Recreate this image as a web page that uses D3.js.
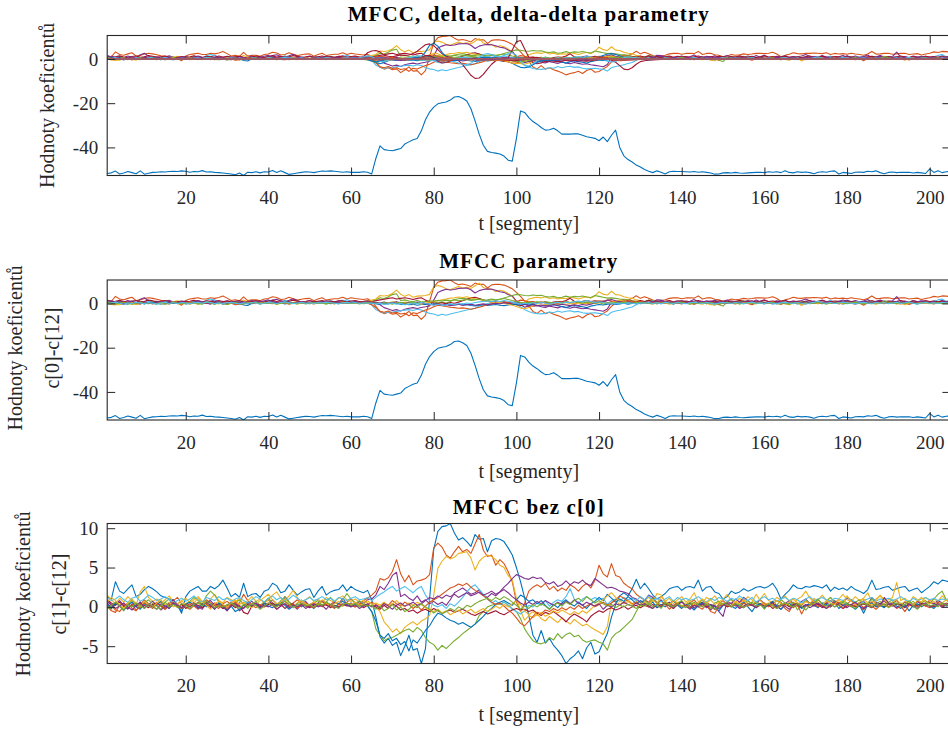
<!DOCTYPE html>
<html>
<head>
<meta charset="utf-8">
<script src="https://cdn.jsdelivr.net/npm/d3@7"></script>
<style>
  body { margin: 0; background: #fff; }
  text { font-family: "Liberation Serif", "Times New Roman", serif; }
</style>
</head>
<body>
<svg id="chart" width="948" height="731"></svg>
<script>
// Segment index (x axis)
const segments = d3.range(1, 206);

// c[0] – energy-like cepstral coefficient
const c0 = [
-51.8,-51.5,-50.7,-52.0,-51.6,-50.9,-51.4,-51.9,-50.6,-52.1,
-51.7,-51.3,-51.2,-51.0,-51.1,-50.9,-50.8,-50.9,-50.6,-50.8,
-51.2,-50.9,-51.0,-50.5,-51.1,-51.0,-51.3,-51.4,-51.6,-51.8,
-52.0,-52.4,-51.6,-52.7,-51.2,-51.4,-51.0,-51.5,-51.0,-51.1,
-50.4,-51.3,-50.6,-51.4,-52.2,-51.9,-51.6,-51.3,-51.0,-51.1,
-51.4,-51.0,-50.7,-50.8,-50.6,-50.8,-51.0,-51.2,-51.0,-51.3,
-51.2,-51.3,-51.0,-51.2,-52.0,-45.0,-39.3,-41.0,-41.3,-41.5,
-41.0,-40.5,-38.5,-37.5,-36.5,-36.0,-32.5,-27.5,-24.0,-21.8,
-20.3,-19.8,-19.5,-18.6,-17.2,-17.0,-17.8,-19.0,-22.5,-28.0,
-34.0,-39.0,-41.8,-42.3,-42.6,-43.0,-43.9,-45.8,-46.2,-36.0,
-23.5,-24.2,-26.5,-28.3,-29.5,-31.0,-32.2,-32.0,-31.3,-32.5,
-34.0,-34.0,-34.0,-33.8,-33.9,-34.5,-35.2,-35.5,-35.9,-37.0,
-35.3,-37.4,-34.5,-32.2,-40.0,-43.8,-45.5,-46.6,-48.0,-48.9,
-50.0,-50.8,-51.4,-50.6,-51.2,-52.0,-51.0,-50.8,-50.9,-50.9,
-51.0,-51.1,-50.9,-51.2,-51.0,-51.3,-51.6,-52.1,-52.0,-51.5,
-51.4,-51.6,-51.3,-51.6,-51.7,-51.5,-51.4,-51.3,-51.2,-51.4,
-51.0,-51.2,-51.0,-51.4,-50.5,-51.3,-51.5,-51.0,-51.3,-51.1,
-51.4,-51.9,-51.2,-51.0,-51.2,-50.8,-50.6,-52.0,-51.3,-51.5,
-51.8,-51.2,-51.1,-51.3,-50.8,-51.0,-50.6,-51.4,-51.9,-51.3,
-51.1,-51.4,-51.2,-51.3,-51.2,-51.6,-51.3,-51.5,-51.8,-49.7,
-51.3,-50.5,-51.4,-51.0,-50.9];

// c[1] .. c[12]
const c1 = [
1.3,1.0,3.2,2.0,1.7,2.3,2.8,1.3,1.6,2.2,
2.6,2.3,1.9,1.4,1.2,1.0,0.9,0.2,-0.8,1.3,
2.0,2.3,2.6,2.0,2.0,2.6,2.3,2.7,3.4,2.4,
1.3,1.7,1.2,3.0,1.3,1.6,1.7,1.2,2.0,2.2,
3.0,2.7,1.8,2.0,2.8,2.1,1.5,1.9,2.2,2.3,
1.2,2.0,2.6,1.5,1.9,2.1,2.2,2.8,2.0,2.6,
2.2,2.0,1.8,2.1,0.9,-1.3,-3.8,-4.6,-4.0,-4.9,
-4.5,-6.2,-5.0,-3.6,-5.5,-5.3,-7.2,-5.3,1.0,7.3,
9.6,10.2,10.3,10.6,9.4,8.5,8.8,8.3,7.7,9.2,
8.6,8.7,7.0,8.4,8.7,8.6,8.3,7.5,6.6,5.0,
3.2,1.1,-1.1,-3.6,-4.5,-3.0,-4.6,-4.0,-4.9,-5.5,
-6.2,-7.2,-6.6,-6.2,-5.6,-6.6,-5.2,-4.5,-6.0,-5.7,
-4.5,-3.4,-1.3,0.3,1.4,1.8,1.4,2.3,3.5,2.3,
3.0,2.3,1.5,1.0,1.3,1.7,2.3,2.5,2.6,2.1,
2.5,2.6,2.4,3.4,2.0,2.5,2.6,1.9,1.7,1.0,
1.3,2.0,1.7,1.9,2.3,2.0,2.2,2.5,2.6,2.4,
2.6,3.0,2.2,1.0,1.6,2.1,2.8,2.4,2.3,2.6,
2.5,2.7,2.6,2.4,2.8,2.0,2.5,2.2,2.4,2.1,
2.6,2.2,2.0,1.7,2.2,3.4,2.2,2.3,2.5,2.6,
2.1,2.3,2.5,2.6,2.0,2.2,2.4,1.8,2.2,2.6,
3.2,2.9,3.4,3.3,3.1];
const c2 = [
0.8,0.2,-0.4,-0.6,0.1,0.5,-0.2,-0.5,0.3,0.9,
0.4,0.1,0.6,0.2,-0.1,0.3,0.8,1.2,0.4,0.0,
-0.3,0.2,0.6,0.3,0.9,0.5,0.1,-0.2,0.4,0.7,
0.3,0.0,0.5,1.6,0.8,0.2,0.4,0.1,0.6,0.9,
0.3,0.0,0.4,0.7,0.2,0.5,0.9,0.4,0.1,0.3,
0.6,0.2,0.8,0.5,0.3,0.7,0.4,0.2,0.6,1.0,
0.5,0.3,0.8,1.1,1.5,2.0,3.6,3.4,3.7,4.5,
6.0,4.2,3.2,4.0,2.8,3.3,3.4,3.6,4.1,7.5,
8.1,7.6,6.6,6.2,7.0,7.7,7.0,7.3,6.8,8.0,
9.2,7.2,6.4,6.6,5.3,6.0,5.5,4.5,3.2,0.6,
-0.6,0.5,2.0,2.5,2.8,2.5,3.0,2.2,2.6,2.0,
2.4,2.1,2.8,2.5,2.0,2.6,3.0,2.4,3.4,5.3,
4.2,3.8,5.5,4.0,3.8,3.0,2.6,2.3,1.6,1.2,
0.9,0.6,1.2,0.4,0.8,0.3,0.5,-0.2,0.4,0.7,
0.2,0.5,0.9,0.3,0.1,0.6,0.2,-0.3,0.4,0.8,
0.3,0.5,0.1,0.6,0.9,0.4,0.2,0.7,0.3,0.5,
0.1,0.4,0.8,0.6,-0.2,-0.6,0.3,0.5,0.2,0.7,
0.4,0.9,0.3,0.1,0.5,0.8,0.4,0.6,0.2,0.3,
0.9,0.5,0.1,-0.4,0.3,0.6,0.2,0.4,0.7,0.3,
0.5,0.8,0.2,0.6,0.4,0.1,0.7,0.5,0.3,0.9,
0.4,0.6,0.2,0.5,0.3];
const c3 = [
1.5,0.9,0.4,1.1,0.6,1.3,0.8,0.2,1.9,2.6,
1.2,0.7,1.0,0.5,0.9,1.4,0.6,0.3,0.8,1.1,
0.5,0.9,1.3,0.7,0.4,1.0,1.6,0.8,0.5,1.2,
0.9,0.6,1.1,0.3,0.8,1.3,0.7,1.0,0.4,0.9,
1.5,1.9,1.1,0.8,1.4,2.1,1.2,0.6,0.9,1.3,
0.7,1.0,0.5,1.2,0.8,0.6,1.1,1.4,0.9,0.7,
1.0,0.6,0.8,0.5,0.4,0.0,-0.6,-1.9,-2.5,-3.2,
-2.8,-3.4,-2.6,-2.2,-1.9,-2.3,-1.8,-1.5,-1.1,1.5,
4.9,5.8,6.4,6.1,6.3,6.8,6.9,7.0,6.2,4.7,
5.8,6.3,6.6,6.4,6.0,5.3,5.0,4.0,3.4,1.1,
-0.5,-1.7,-1.1,-1.4,-0.9,-1.5,-1.8,-1.2,-1.6,-2.0,
-1.4,-1.8,-2.2,-1.6,-2.0,-2.4,-2.2,-2.6,-2.9,-3.2,
-3.5,-2.5,0.6,0.8,0.3,0.6,0.9,0.4,0.7,0.5,
0.8,1.2,0.6,1.7,1.5,0.7,1.1,0.4,0.9,1.3,
0.6,1.0,1.8,0.7,0.5,1.2,0.9,1.4,0.6,1.0,
1.6,0.8,0.5,1.1,0.7,1.3,0.9,0.4,1.0,1.7,
0.8,0.6,1.2,0.9,1.4,0.7,0.3,1.0,1.3,2.0,
1.1,0.6,0.9,1.5,0.8,1.2,0.5,1.0,1.6,0.9,
0.7,1.3,0.8,1.1,1.8,0.6,1.0,1.4,0.7,0.9,
1.2,3.1,0.8,1.1,0.5,1.3,0.9,0.6,1.2,0.8,
1.0,0.7,1.4,0.9,0.6];
const c4 = [
0.5,-0.1,0.3,0.8,0.2,-0.3,0.4,0.1,0.6,-0.2,
0.3,0.7,0.2,-0.4,0.1,0.5,0.9,0.3,-0.1,0.4,
0.2,0.6,0.0,-0.3,0.5,0.8,0.2,0.4,-0.2,0.1,
0.6,0.3,-0.5,-0.1,0.4,0.7,0.2,0.0,0.5,0.3,
0.9,0.4,0.1,1.3,0.6,0.2,-0.3,0.4,0.7,0.1,
0.3,0.5,0.8,0.2,0.0,0.6,0.4,1.1,0.3,0.5,
0.2,0.7,0.4,0.9,1.0,1.5,2.6,2.2,3.0,4.0,
4.4,1.3,1.6,1.1,0.8,1.4,0.6,0.9,0.4,0.7,
0.3,0.6,0.2,0.9,1.8,2.1,2.4,2.0,1.6,1.8,
2.2,1.5,1.2,1.7,1.4,1.9,2.5,3.0,3.6,4.1,
3.9,3.6,3.5,3.8,3.6,3.7,3.1,2.9,3.2,2.6,
2.8,3.3,2.8,3.2,3.0,3.4,2.9,2.7,3.6,3.2,
2.8,2.4,2.5,2.3,2.0,1.9,1.7,1.2,1.0,0.6,
0.8,1.5,1.2,0.5,0.9,0.3,0.6,0.1,0.4,0.7,
0.2,0.5,-0.2,0.3,0.6,0.1,-0.4,0.2,-0.6,-1.2,
0.7,0.4,1.0,0.6,1.2,0.8,0.3,0.5,0.9,0.4,
0.2,0.6,0.1,-0.3,0.4,0.8,0.5,0.2,0.7,1.0,
0.4,0.6,0.3,0.1,0.5,0.2,0.8,0.4,0.6,1.1,
0.9,0.3,0.5,0.7,0.2,1.2,0.6,0.4,0.8,0.3,
0.5,0.9,0.2,0.6,0.4,0.1,0.7,0.3,0.5,0.6,
0.4,0.8,0.5,0.3,0.6];
const c5 = [
0.2,-0.3,0.6,0.1,-0.5,0.3,0.8,0.4,-0.2,0.5,
0.9,0.4,0.1,-0.3,0.6,1.0,0.5,0.2,-0.1,0.4,
0.7,1.2,0.8,0.3,1.4,2.0,1.5,0.6,0.2,-0.4,
0.1,0.5,0.9,0.3,-0.2,0.4,0.7,0.2,0.6,1.1,
0.5,0.2,0.8,1.3,0.6,0.1,0.4,0.9,0.3,0.0,
0.5,0.8,0.2,0.6,1.2,0.7,0.3,0.9,1.7,1.0,
0.4,0.8,0.3,0.2,-0.6,-2.8,-3.6,-4.3,-4.0,-3.9,
-3.6,-3.3,-3.0,-2.8,-3.2,-2.6,-3.0,-3.9,-4.5,-4.8,
-5.5,-4.9,-5.3,-4.8,-4.3,-3.9,-3.4,-3.0,-2.6,-2.2,
-1.1,-0.6,0.0,0.2,0.4,0.3,0.6,0.2,-0.2,-0.6,
-1.5,-2.8,-3.6,-4.3,-4.6,-4.7,-4.5,-3.9,-4.2,-3.4,
-4.0,-3.5,-3.3,-3.8,-3.6,-4.2,-4.5,-4.3,-4.2,-4.5,
-4.7,-5.5,-4.0,-3.4,-3.1,-2.6,-2.1,-1.6,-0.6,0.3,
0.8,0.4,1.1,0.6,0.2,0.7,0.3,-0.1,0.5,0.8,
0.2,0.6,0.1,0.4,0.9,0.3,-0.2,0.5,0.7,0.2,
0.6,1.0,0.4,0.1,0.5,0.8,0.2,0.6,0.3,-0.3,
0.4,0.7,0.2,0.9,0.5,0.1,0.6,-0.4,0.3,0.8,
0.5,0.2,0.9,0.4,0.7,1.2,0.6,0.3,0.8,0.5,
0.1,0.6,0.9,0.3,0.5,1.0,0.4,0.7,0.2,0.6,
0.9,0.3,0.5,0.1,0.4,0.7,0.2,0.5,0.8,0.4,
1.0,1.6,2.0,0.9,0.5];
const c6 = [
1.2,0.8,1.0,1.4,0.9,0.6,1.1,1.3,0.7,1.0,
1.5,1.2,0.8,1.0,1.3,0.9,0.5,0.8,1.1,0.7,
1.0,1.4,0.9,0.6,1.2,1.0,0.8,1.3,0.9,1.1,
0.7,1.0,1.2,0.8,0.5,0.9,1.3,1.0,0.6,1.1,
1.4,0.9,1.2,0.8,1.0,1.5,1.1,0.7,0.9,1.2,
0.8,1.0,1.3,0.9,1.1,0.7,1.2,1.0,0.8,1.1,
1.3,0.9,1.0,1.2,0.8,1.2,1.6,1.9,2.3,2.6,
2.0,2.3,2.6,2.2,1.8,2.3,2.6,1.5,0.8,0.2,
0.0,0.3,-0.2,0.4,0.1,0.6,1.2,1.9,2.5,2.8,
2.2,1.6,1.0,0.5,0.8,0.3,0.6,0.2,-0.3,-0.6,
-0.9,-0.5,0.2,0.0,0.5,0.2,0.8,0.1,0.6,0.9,
0.7,1.3,2.3,1.0,0.4,1.0,1.3,0.9,1.2,0.9,
1.1,0.3,0.8,1.0,0.7,1.2,0.9,1.1,0.8,1.3,
0.9,1.4,0.8,1.1,0.6,1.0,1.3,0.7,1.2,0.9,
1.1,0.8,1.0,1.3,0.9,0.6,1.1,0.8,1.2,1.0,
0.7,1.1,0.9,1.4,1.0,0.8,1.2,0.6,1.0,1.3,
0.9,1.1,0.7,1.0,1.2,0.8,1.1,0.9,0.5,1.0,
1.3,0.8,1.0,1.2,0.9,0.7,1.1,1.0,0.8,1.2,
0.9,0.6,0.1,0.8,1.0,1.2,0.7,1.0,0.9,1.1,
0.8,1.0,1.3,0.9,0.6,1.1,0.8,1.0,1.2,0.9,
1.1,0.8,1.0,0.9,1.2];
const c7 = [
0.9,0.5,0.2,0.6,0.1,-0.2,0.3,0.0,0.4,0.2,
-0.1,0.3,0.5,0.1,-0.3,0.2,0.4,0.0,0.3,-0.2,
0.1,0.4,0.2,-0.1,0.3,0.0,0.5,0.2,-0.2,0.1,
0.3,-0.1,0.2,-0.7,-0.9,0.1,0.4,0.2,0.0,0.3,
0.5,0.1,0.3,-0.2,0.2,0.4,0.0,0.3,0.1,-0.1,
0.2,0.4,0.1,0.3,-0.1,0.2,0.0,0.3,0.1,0.2,
0.0,0.3,-0.1,0.2,0.1,0.0,-0.3,0.2,-0.2,0.4,
0.1,-0.4,-0.2,-0.6,-0.4,-0.8,-0.5,-0.3,-0.6,-0.2,
-0.5,-0.8,-0.6,-0.4,-0.7,-0.5,-0.3,-0.6,-0.9,-1.1,
-0.8,-0.6,-0.9,-0.7,-0.5,-0.8,-1.0,-0.7,-0.4,-0.2,
-0.4,-0.3,-0.6,-0.4,-0.8,-1.1,-0.7,-0.9,-0.6,-1.0,
-1.4,-1.9,-1.3,-0.9,-1.2,-1.5,-1.9,-1.2,-0.8,-0.5,
-0.7,-0.3,-0.1,-0.4,-0.2,0.1,-0.3,0.0,0.2,-0.1,
0.2,0.0,0.3,-0.1,0.2,0.4,0.1,-0.2,0.3,0.0,
0.2,-0.1,0.3,0.1,0.4,0.0,0.2,-0.3,0.1,0.3,
0.0,0.2,0.4,0.1,-0.1,0.3,0.2,0.0,0.4,0.1,
0.3,-0.2,0.1,0.2,0.4,0.0,0.3,0.1,-0.1,0.2,
0.4,0.1,0.3,-0.1,0.2,0.0,0.5,0.2,-0.2,0.1,
0.3,0.0,0.2,0.4,0.1,-0.1,0.3,0.2,0.0,0.3,
0.1,0.4,0.2,-0.1,0.3,0.0,0.2,0.4,0.1,0.2,
0.0,0.3,0.1,0.2,0.4];
const c8 = [
0.3,-0.2,0.5,0.1,-0.4,0.2,0.6,0.0,-0.3,0.4,
0.1,-0.1,0.3,0.7,0.2,-0.2,0.4,0.1,-0.5,0.3,
0.6,0.2,-0.1,0.4,0.0,0.3,-0.3,0.5,0.2,-0.4,
0.1,-0.6,-0.3,0.2,0.5,0.0,0.3,-0.2,0.4,0.1,
-0.1,0.3,0.6,0.2,-0.3,0.1,0.4,0.0,0.5,0.2,
-0.2,0.3,0.1,0.6,0.2,-0.1,0.4,0.7,0.3,0.0,
0.4,0.2,0.5,0.1,-0.6,-1.8,-3.6,-4.0,-3.4,-4.3,
-4.0,-4.8,-4.4,-5.6,-4.2,-4.6,-3.8,-3.0,-2.4,-1.5,
-0.8,-1.0,-1.4,-1.7,-1.9,-2.2,-2.0,-2.3,-2.6,-2.2,
-1.7,-1.2,-0.6,-0.2,0.3,0.6,0.8,0.5,0.2,0.9,
1.5,1.2,0.7,0.9,0.4,0.8,0.2,-0.3,0.3,-0.1,
0.5,0.9,0.4,0.1,0.6,0.2,-0.2,0.4,0.7,1.2,
0.8,1.6,1.1,0.6,1.0,0.7,1.3,0.9,0.4,0.8,
0.5,0.2,0.6,-0.1,0.3,0.0,0.4,0.8,0.2,-0.2,
0.3,0.1,-0.4,0.2,0.5,-0.1,0.3,0.0,-0.5,0.2,
0.4,0.1,-0.2,0.3,0.6,0.0,-0.6,0.2,0.4,-0.1,
0.3,0.7,0.1,-0.3,0.2,0.5,0.0,0.3,-0.2,0.1,
0.4,0.2,-0.1,0.5,0.3,0.0,0.6,-0.2,0.2,0.4,
0.1,-0.3,0.2,-0.8,0.3,0.5,0.0,0.2,-0.1,0.4,
0.6,0.1,-0.2,0.3,-0.5,0.2,0.4,0.0,0.3,0.1,
-0.2,0.3,0.5,0.1,0.2];
const c9 = [
0.1,-0.5,-0.7,0.2,0.4,-0.1,0.3,-0.4,0.0,0.5,
0.2,-0.2,0.4,0.1,-0.3,0.3,0.6,0.0,-0.2,0.2,
0.4,0.1,-0.3,0.2,0.5,-0.1,0.3,0.0,0.2,-0.2,
0.3,0.6,0.1,-0.2,0.4,0.2,-0.1,0.3,0.0,0.5,
0.2,-0.3,0.1,0.4,0.0,0.3,-0.2,0.2,0.5,0.1,
-0.1,0.3,0.0,0.4,0.2,-0.2,0.3,0.1,0.5,0.2,
0.0,0.4,0.1,0.3,0.6,0.3,0.0,0.5,0.2,0.8,
0.4,0.1,0.6,0.3,-0.2,0.2,-0.4,0.1,0.6,0.9,
1.2,1.6,2.0,2.4,2.6,2.9,2.7,3.0,2.5,2.1,
1.8,1.4,1.0,0.6,0.3,0.5,0.1,-0.4,-0.8,-1.4,
-2.1,-2.4,-1.8,-1.2,-0.7,-0.9,-0.4,-0.6,-0.2,-0.5,
-0.1,-0.4,0.0,-0.3,0.2,-0.2,0.1,0.4,0.0,0.3,
0.6,0.2,0.5,0.9,1.4,1.1,0.7,0.4,0.6,0.2,
0.3,0.0,-0.2,0.4,0.1,0.3,-0.3,0.2,0.5,0.0,
0.2,-0.1,0.4,0.0,-0.3,0.3,-0.6,-0.8,0.1,0.4,
0.2,0.0,0.3,-0.2,0.5,0.1,0.3,-0.1,0.2,0.4,
0.0,0.3,-0.2,0.1,0.4,0.2,-0.1,0.3,-0.9,0.1,
0.2,0.4,0.0,0.3,-0.2,0.1,0.5,0.2,-0.1,0.3,
0.0,0.2,0.4,-0.1,0.3,0.1,-0.3,0.2,0.4,0.0,
0.3,-0.2,0.1,-0.6,0.2,0.4,0.0,0.3,0.1,-0.1,
0.2,0.4,0.0,0.3,0.1];
const c10 = [
0.6,1.2,0.8,0.3,-0.2,0.5,1.0,0.4,0.1,0.7,
0.3,-0.1,0.5,0.9,0.2,0.6,0.0,0.4,0.8,0.3,
0.1,0.5,1.1,0.6,0.2,-0.3,0.4,0.7,0.3,0.0,
0.5,0.9,0.3,0.6,0.2,-0.1,0.4,0.8,1.2,1.6,
0.9,0.4,0.6,1.0,0.3,0.1,0.5,0.8,0.4,0.2,
0.6,0.3,0.9,0.5,0.1,0.4,0.7,0.2,0.5,0.3,
0.6,0.2,0.4,0.8,0.3,0.5,0.2,0.6,0.1,0.4,
0.8,0.3,0.0,0.5,0.2,0.6,0.3,-0.1,-0.4,-0.6,
-0.3,-0.8,-0.5,-1.0,-0.7,-0.4,-0.9,-0.6,-0.3,-0.8,
-0.5,-0.2,-0.6,-0.3,0.1,-0.2,0.3,0.0,0.4,0.8,
0.3,-0.5,-1.0,-0.6,-1.1,-0.7,-1.2,-0.9,-0.5,-0.8,
-0.4,-0.7,-1.0,-0.6,-0.9,-0.5,-0.8,-0.3,0.2,0.5,
0.9,1.4,1.8,1.2,0.8,0.4,0.7,0.3,0.5,0.1,
0.6,0.2,0.9,0.4,1.3,0.7,0.3,0.8,0.5,0.1,
0.4,0.8,0.2,0.6,1.0,0.5,0.9,0.3,0.6,0.2,
0.5,0.1,0.7,0.3,0.9,0.4,0.6,1.6,0.8,0.3,
0.5,0.2,0.8,0.4,0.1,0.6,1.0,0.5,0.3,0.7,
0.4,1.1,0.6,0.2,0.8,0.5,0.3,0.9,0.4,1.4,
0.7,0.3,0.6,1.0,0.5,0.2,0.8,1.5,0.9,0.4,
0.6,0.9,0.3,0.7,0.5,0.2,0.8,1.2,0.6,0.4,
0.7,0.3,0.5,0.9,0.4];
const c11 = [
0.7,0.3,-0.2,0.1,0.5,0.0,-0.4,0.2,0.6,-0.1,
0.3,0.0,-0.3,0.4,0.1,-0.2,0.5,0.2,-0.1,0.3,
0.0,0.4,-0.2,0.1,0.6,0.2,-0.3,0.3,0.0,-0.5,
0.2,0.4,0.0,-0.2,0.3,0.1,0.5,-0.1,0.2,0.0,
0.3,-0.3,0.1,0.4,-0.1,0.2,0.0,0.3,-0.2,0.1,
0.4,0.0,0.2,-0.3,0.3,0.1,-0.1,0.4,0.2,0.0,
0.3,-0.2,0.1,0.4,0.0,0.2,-0.1,0.4,0.1,-0.3,
0.2,0.5,0.1,0.3,0.6,0.2,0.4,0.8,1.2,1.0,
1.4,1.1,1.5,1.3,1.6,1.2,1.5,1.8,1.4,1.6,
1.9,1.5,1.7,2.0,1.6,1.9,2.2,1.8,1.3,0.9,
0.5,0.2,0.6,0.3,0.7,0.4,0.8,0.5,0.2,0.6,
0.3,0.7,0.4,0.9,0.5,0.2,0.6,0.3,0.1,0.4,
-0.3,0.2,0.0,0.4,0.2,0.6,0.3,0.1,0.5,0.2,
0.4,0.1,-0.2,0.3,0.0,0.5,0.2,-0.1,0.3,0.6,
0.1,-0.3,0.2,0.0,0.4,-0.1,0.3,0.1,-0.2,0.2,
0.5,0.0,0.3,-0.2,0.1,0.4,0.2,-0.1,0.3,0.0,
0.2,0.5,-0.1,0.3,0.1,-0.3,0.2,0.4,0.0,0.3,
-0.1,0.2,0.5,0.1,-0.2,0.3,0.0,0.4,0.2,-0.1,
0.3,0.6,0.1,-0.2,0.2,0.0,0.4,0.1,1.2,0.5,
0.2,-0.1,0.3,0.0,0.4,0.1,-0.2,0.3,0.5,0.0,
0.2,0.4,-0.1,0.3,0.1];
const c12 = [
-0.3,0.2,0.6,0.1,-0.4,0.3,0.0,0.5,0.2,-0.2,
0.4,0.1,-0.3,0.2,0.6,0.0,0.3,-0.1,0.4,0.2,
-0.2,0.3,0.5,0.1,0.7,0.4,-0.1,0.2,0.0,0.3,
0.5,0.1,-0.2,0.3,0.0,0.4,0.2,-0.3,0.1,0.5,
0.2,0.0,0.4,0.7,0.3,-0.1,0.2,0.5,0.1,0.3,
0.0,0.4,0.2,0.6,0.3,0.1,-0.2,0.3,0.5,0.2,
0.4,0.0,0.3,0.1,0.2,-0.3,0.1,-0.5,-0.2,0.3,
-0.4,0.0,-0.6,-0.3,0.2,-0.1,0.4,0.0,-0.3,-0.8,
-0.4,-0.9,-0.6,-0.2,-0.5,0.0,-0.3,0.2,0.0,0.4,
0.7,0.9,1.1,0.8,1.2,0.9,1.3,1.0,0.6,0.2,
-0.3,0.1,-0.2,0.3,0.0,0.4,0.1,-0.3,0.2,0.5,
0.1,0.6,0.3,0.8,1.1,0.7,1.3,0.9,0.5,0.8,
0.4,0.1,0.3,-0.1,0.2,0.0,0.3,0.1,-0.2,0.2,
0.1,0.4,0.0,0.3,-0.2,0.5,0.2,0.0,0.4,0.1,
-0.1,0.3,0.6,0.2,0.0,0.4,0.1,-0.3,0.2,0.5,
0.3,0.0,0.4,0.2,-0.1,0.3,0.6,0.1,0.2,0.0,
0.4,0.1,-0.2,0.3,0.5,0.2,0.0,0.4,0.1,-0.4,
0.2,0.5,1.0,0.3,0.1,0.4,0.0,0.2,0.6,0.3,
0.1,-0.2,0.3,0.5,0.2,0.0,0.4,0.1,0.3,-0.1,
0.2,0.5,0.0,0.3,0.8,0.1,-0.3,0.2,0.4,0.1,
0.3,0.0,0.5,0.2,0.4];

// delta coefficients
const dc0 = [
0.1,0.3,-0.1,-0.2,0.2,0.1,-0.3,0.2,0,-0.2,
0.1,0.2,0.1,0,0,0.1,0,0,0.1,-0.1,
-0.1,0,0.1,0,-0.1,-0.2,-0.2,-0.2,-0.1,-0.2,
-0.3,0,0,0.2,0.1,0.1,0.1,0,0.1,0.2,
0,-0.1,-0.2,-0.3,0,0.2,0.2,0.2,0.1,0,
0,0.1,0.1,0,-0.1,-0.1,-0.1,0,0,0,
0,0.2,1.0,2.8,3.6,3.8,3.2,1.6,1.2,1.0,
1.4,1.8,1.6,1.8,2.4,3.5,5.0,6.4,6.8,6.0,
4.2,2.4,1.2,0.8,0.2,-0.8,-2.6,-5.0,-7.4,-8.8,
-8.6,-7.0,-4.6,-2.4,-0.8,-0.6,-1.0,0.4,4.0,7.8,
8.3,4.5,0.8,-1.6,-2.2,-1.8,-1.2,-0.8,-1.0,-1.2,
-1.0,-0.6,-0.4,-0.6,-0.8,-0.9,-1.0,-0.8,-0.6,-0.2,
0.4,0.6,-0.6,-1.5,-3.0,-4.6,-4.9,-4.0,-2.4,-1.2,
-0.8,-0.6,-0.4,-0.3,-0.2,0,0.1,0.1,0,0,
0,0,0,-0.1,-0.1,-0.1,-0.2,-0.1,0,0.1,
0,0,0,0,0,0,0.1,0,0,0.1,
0,0,0.1,0.1,0,-0.1,0,0,0,0,
-0.1,0,0.1,0.1,0.1,0,-0.1,-0.1,0,0,
0,0.1,0.1,0.1,0,-0.1,0,0,0,0,
0,0,0,-0.1,0,0,0,0.2,0.1,0,
-0.1,0,0.1,0,0];
const dc1 = [
0,0.1,0,-0.1,0.1,0.1,-0.1,-0.1,0.1,0.1,
0,-0.1,-0.1,-0.1,-0.1,-0.2,-0.3,-0.1,0.2,0.3,
0.3,0.1,0,0,0.1,0.1,0.1,0.1,0,-0.2,
-0.2,-0.1,0.1,0,0,0,0,0.1,0.2,0.2,
0,-0.1,0,0.1,0,-0.1,0,0.1,0,-0.1,
0,0.1,0,0,0.1,0.1,0,0,0,-0.1,
-0.1,0,-0.1,-0.2,-0.4,-1.6,-2.2,-1.6,-0.8,-0.4,
-0.6,-0.2,0.3,-0.2,-0.5,-0.4,0.8,3.2,6.2,7.1,
5.8,3.0,0.8,-0.2,-0.6,-0.5,-0.2,0.1,0.2,0,
-0.2,-0.3,0.1,0.2,0,-0.3,-0.6,-1.2,-2.0,-3.0,
-3.8,-4.0,-3.6,-2.6,-1.6,-0.8,-0.6,-0.5,-0.6,-0.5,
-0.3,-0.1,0.2,0.3,0.2,0.3,0.4,0.2,0.5,1.0,
1.6,2.2,2.4,2.0,1.4,0.9,0.6,0.4,0.2,0,
-0.2,-0.3,-0.2,0,0.2,0.2,0.1,0,0,0,
0,0,0.1,0,-0.1,-0.1,-0.2,-0.2,-0.1,0,
0.1,0.1,0.1,0.1,0,0,0,0.1,0,0,
0,-0.1,-0.2,-0.1,0.1,0.2,0.1,0,0,0,
0,0,0,0,0,0,0,0,0,0,
0,0,0,0.1,0.1,0,0,0,0,0,
0,0,0,0,0,0,0,0,0.1,0.2,
0.2,0.1,0,0,0];
const dc2 = [
0,-0.1,-0.1,0,0.1,0,-0.1,0,0.1,0,
0,0,0,-0.1,0,0.1,0.1,0,-0.1,-0.1,
0,0.1,0,0.1,0,-0.1,-0.1,0,0.1,0,
0,0.1,0.2,0.1,-0.1,-0.1,0,0,0.1,0,
0,0,0,0,0.1,0.1,0,-0.1,0,0.1,
0,0,0,0,0,0,0,0.1,0.1,0.1,
0,0.1,0.2,0.3,0.6,1.0,1.2,1.0,0.8,0.6,
0.2,-0.4,-0.6,-0.3,-0.1,0.1,0.5,1.2,1.6,1.8,
1.2,0.4,-0.2,-0.1,0.3,0.2,0,0.1,0.4,0.6,
0.2,-0.4,-0.6,-0.5,-0.3,-0.5,-0.9,-1.4,-1.8,-1.9,
-1.2,-0.2,0.6,0.6,0.3,0.1,0,0,0,0,
0,0.1,0,0,0.1,0.1,0.2,0.4,0.8,0.9,
0.6,0.2,-0.2,-0.6,-0.8,-0.7,-0.6,-0.5,-0.3,-0.2,
-0.1,0,0,-0.1,0,0,0,0,0,0,
0,0.1,0,0,0,0,0,0,0.1,0,
0,0,0,0.1,0,0,0,0,0,0,
0,0,-0.1,-0.2,-0.1,0,0.1,0.1,0,0,
0,0,0,0,0,0,0,0,0,0,
-0.1,-0.1,0,0.1,0.1,0,0,0,0,0,
0,0,0,0,0,0,0,0,0,0.1,
0,0,0,0,0];
const dc3 = [
0,-0.1,0,0,0,0,0,0.2,0.2,0,
-0.2,-0.1,0,0,0,0,0,0,0,0,
0,0,0,0,0,0,0,0,0,0,
0,0,0,0,0,0,0,0,0.1,0.1,
0.1,0,0,0,0,0,-0.1,-0.1,0,0,
0,0,0,0,0,0,0,0,0,0,
0,0,0,-0.1,-0.2,-0.5,-0.8,-0.9,-0.7,-0.4,
-0.1,0.1,0.2,0.3,0.3,0.2,0.3,0.9,1.8,2.5,
2.4,1.5,0.6,0.2,0.2,0.2,0,-0.3,-0.4,-0.2,
0.2,0.3,0.1,-0.2,-0.4,-0.5,-0.7,-1.2,-1.8,-2.2,
-1.9,-1.0,-0.3,0,-0.1,-0.1,0,0,-0.1,0,
0,-0.1,0,0,-0.1,-0.1,-0.1,-0.2,-0.3,0,
0.7,1.2,1.3,0.8,0.2,0,0,0,0,0,
0,0,0.1,0,0,0,0,0,0,0,
0,0.1,0,0,0,0,0,0,0,0,
0,0,0,0,0,0,0,0,0,0.1,
0,0,0,0,0,0,0,0.1,0.2,0.1,
0,0,0,0,0,0,0,0,0,0,
0,0,0,0,0,0,0,0,0,0.1,
0.2,0.1,-0.2,-0.2,0,0,0,0,0,0,
0,0,0,0,0];
const dc4 = [
0,0,0.1,0,-0.1,0,0.1,0,0,0,
0,0,-0.1,-0.1,0,0.1,0.1,0,-0.1,0,
0,0,0,0,0.1,0,0,-0.1,0,0,
0,-0.1,0,0,0.1,0,0,0,0,0.1,
0.1,0,0,0.1,0,-0.1,0,0,0,0,
0,0,0,0,0,0,0.1,0,0,0,
0,0,0.1,0.2,0.4,0.5,0.7,0.6,0.3,-0.2,
-0.6,-0.7,-0.5,-0.2,-0.1,-0.1,-0.1,-0.1,-0.1,0.1,
0.3,0.4,0.4,0.3,0.1,-0.1,-0.1,-0.1,0,0,
-0.1,0,0.1,0.2,0.3,0.4,0.5,0.4,0.3,0.1,
0,-0.1,0,0,-0.1,-0.1,-0.1,0,0,0,
0,0,0,0,0,0,0,0,0,-0.1,
-0.1,-0.1,-0.2,-0.3,-0.4,-0.4,-0.3,-0.3,-0.2,-0.1,
-0.1,0,0,0,0,0,0,0,0,0,
0,0,0,0,-0.1,-0.2,-0.1,0,0.1,0.2,
0.1,0,0,0,0,0,0,0,0,0,
0,0,0,0,0,0,0,0,0,0,
0,0,0,0,0,0,0,0,0,0,
0,0,0,0,0,0.1,0,0,0,0,
0,0,0,0,0,0,0,0,0,0,
0,0,0,0,0];
const dc5 = [
0,0,0,-0.1,0,0.1,0,0,0,0.1,
0.1,0,-0.1,0,0.1,0,-0.1,0,0,0.1,
0.1,0.1,0,0.1,0.2,0,-0.2,-0.3,-0.2,0,
0.1,0.1,0,-0.1,0,0.1,0,0,0.1,0,
0,0,0.1,0,-0.1,0,0,0,0,0,
0.1,0,0,0.1,0,0,0.1,0.1,0,-0.1,
-0.1,-0.1,-0.2,-0.4,-1.0,-1.4,-1.2,-0.6,-0.1,0.1,
0.2,0.2,0.1,0,-0.1,-0.3,-0.5,-0.6,-0.6,-0.4,
-0.1,0.1,0.2,0.4,0.5,0.6,0.7,0.9,1.1,1.0,
0.8,0.5,0.2,0,-0.1,-0.2,-0.3,-0.5,-0.8,-1.1,
-1.3,-1.1,-0.7,-0.3,0,0.1,0.1,0,0,0,
0,0,0,0,-0.1,-0.1,0,0,-0.1,-0.1,
0,0.3,0.6,0.7,0.8,0.8,0.7,0.6,0.4,0.2,
0.1,0,0,0,0,0,0,0,0,0,
0,0,0,0,0,0,0,0,0,0,
0,0,0,0,0,0,0,0,0,0,
0,0,0,0,0,0,0,0,0,0,
0,0,0,0,0.1,0,0,0,0,0,
0,0,0,0,0,0,0,0,0,0,
0,0,0,0,0,0,0,0,0.1,0.2,
0.3,0.2,0,-0.2,-0.2];
const dc6 = [
0,0,0.1,0,0,-0.1,0,0.1,0,0,
0,0,-0.1,0,0,0,0,0.1,0,0,
0,0.1,0,0,0,0,0,0,0,0,
0,0,0,-0.1,0,0,0,0,0,0.1,
0,0,0,0,0.1,0,0,0,0,0,
0,0,0,0,0,0,0,0,0,0,
0,0,0,0,0.1,0.3,0.4,0.3,0.2,0.1,
0,0,0,0,-0.1,-0.2,-0.5,-0.8,-0.9,-0.6,
-0.2,0,0,0.1,0.2,0.4,0.7,0.7,0.4,0,
-0.4,-0.6,-0.5,-0.3,-0.1,-0.1,-0.1,-0.2,-0.3,-0.3,
0.1,0.3,0.3,0.2,0.1,0.1,0,0.1,0.1,0.2,
0.2,0.3,0.2,-0.2,-0.1,0,0,0,0,0,
0,0,0,0,0,0,0,0,0,0,
0,0,0,0,0,0,0,0,0,0,
0,0,0,0,0,0,0,0,0,0,
0,0,0,0,0,0,0,0,0,0,
0,0,0,0,0,0,0,0,0,0,
0,0,0,0,0,0,0,0,0,0,
0,0,0,-0.1,-0.1,0.1,0.1,0,0,0,
0,0,0,0,0,0,0,0,0,0,
0,0,0,0,0];
const dc7 = [
-0.1,-0.1,0,0,0,0,0,0,0,0,
0,0,0,0,0,0,0,0,0,0,
0,0,0,0,0,0,0,0,0,0,
0,0,-0.1,-0.2,-0.1,0.1,0.2,0.1,0,0,
0,0,0,0,0,0,0,0,0,0,
0,0,0,0,0,0,0,0,0,0,
0,0,0,0,0,0,0,0,0,0,
-0.1,-0.1,-0.2,-0.1,-0.1,0,0,0,0,0,
-0.1,0,0,0,0,0,-0.1,-0.1,-0.1,0,
0,0,0,0,0,0,0.1,0.1,0.1,0.1,
0,0,-0.1,-0.1,-0.1,-0.1,0,0,-0.1,-0.2,
-0.2,-0.1,0,0,-0.1,-0.1,0,0.2,0.3,0.3,
0.2,0.1,0.1,0,0,0,0,0,0,0,
0,0,0,0,0,0,0,0,0,0,
0,0,0,0,0,0,0,0,0,0,
0,0,0,0,0,0,0,0,0,0,
0,0,0,0,0,0,0,0,0,0,
0,0,0,0,0,0,0,0,0,0,
0,0,0,0,0,0,0,0,0,0,
0,0,0,0,0,0,0,0,0,0,
0,0,0,0,0];
const dc8 = [
0,0,0,0,0,0,0,0,0,0,
0,0.1,0.1,0,-0.1,-0.1,0,0,0,0.1,
0.1,0,0,0,0,0,0,0,0,0,
0,0,0,0.1,0.1,0,0,0,0,0,
0,0,0,0,0,0,0,0,0,0,
0,0,0,0,0,0,0.1,0,0,0,
0,0,0,-0.4,-0.9,-1.3,-1.1,-0.5,-0.1,-0.2,
-0.2,-0.1,0,0.2,0.5,0.7,0.8,0.9,1.0,0.8,
0.4,0,-0.3,-0.3,-0.3,-0.2,-0.1,-0.1,0.1,0.4,
0.6,0.7,0.6,0.5,0.4,0.2,0.1,0.1,0.2,0.2,
0,-0.2,-0.2,-0.2,-0.1,-0.1,-0.1,0,0,0,
0,0,0,0,0,0,0.1,0.2,0.2,0.1,
0,0,0,0,-0.1,-0.1,0,0,0,0,
0,0,0,0,0,0,0,0,0,0,
0,0,0,0,0,0,0,0,0,0,
0,0,0,0,0,0,0,0,0,0,
0,0,0,0,0,0,0,0,0,0,
0,0,0,0,0,0,0,0,0,0,
0,0,0,0,0,0,0,0,0,0,
0,0,0,0,0,0,0,0,0,0,
0,0,0,0,0];
const dc9 = [
0,0,0,0,0,0,0,0,0,0,
0,0,0,0,0,0,0,0,0,0,
0,0,0,0,0,0,0,0,0,0,
0,0,0,0,0,0,0,0,0,0,
0,0,0,0,0,0,0,0,0,0,
0,0,0,0,0,0,0,0,0,0,
0,0,0,0,0,0,0,0,0,0,
0,0,0,0,0,0,0.1,0.2,0.3,0.3,
0.4,0.4,0.4,0.3,0.2,0.1,0,-0.1,-0.2,-0.3,
-0.4,-0.4,-0.4,-0.4,-0.3,-0.3,-0.4,-0.5,-0.6,-0.6,
-0.4,-0.1,0.2,0.4,0.3,0.2,0.1,0.1,0.1,0.1,
0.1,0.1,0.1,0.1,0.1,0.1,0.1,0.1,0.1,0.2,
0.2,0.2,0.2,0.1,0,-0.1,-0.2,-0.2,-0.1,0,
0,0,0,0,0,0,0,0,0,0,
0,0,0,0,0,0,-0.1,-0.1,0,0,
0,0,0,0,0,0,0,0,0,0,
0,0,0,0,0,0,0,0,0,0,
0,0,0,0,0,0,0,0,0,0,
0,0,0,0,0,0,0,0,0,0,
0,0,0,0,0,0,0,0,0,0,
0,0,0,0,0];
const dc10 = [
0,0,0,0,0,0,0,0,0,0,
0,0,0,0,0,0,0,0,0,0,
0,0,0,0,0,0,0,0,0,0,
0,0,0,0,0,0,0,0.1,0.1,0.1,
0,0,0,0,0,0,0,0,0,0,
0,0,0,0,0,0,0,0,0,0,
0,0,0,0,0,0,0,0,0,0,
0,0,0,0,0,-0.1,-0.2,-0.3,-0.3,-0.2,
-0.1,-0.1,0,0,0,0,0,0,0,0.1,
0.1,0.1,0.1,0.2,0.2,0.2,0.1,0.1,0,-0.2,
-0.3,-0.3,-0.2,-0.1,0,0,0,0,0,0,
0,0,0,0,0.1,0.2,0.3,0.4,0.5,0.5,
0.4,0.2,0,-0.2,-0.3,-0.3,-0.2,-0.1,0,0,
0,0,0,0,0,0,0,0,0,0,
0,0,0,0,0,0,0,0,0,0,
0,0,0,0,0,0,0,0,0,0,
0,0,0,0,0,0,0,0,0,0,
0,0,0,0,0,0,0,0,0,0,
0,0,0,0,0,0,0,0,0,0,
0,0,0,0,0,0,0,0,0,0,
0,0,0,0,0];
const dc11 = [
0,0,0,0,0,0,0,0,0,0,
0,0,0,0,0,0,0,0,0,0,
0,0,0,0,0,0,0,0,0,0,
0,0,0,0,0,0,0,0,0,0,
0,0,0,0,0,0,0,0,0,0,
0,0,0,0,0,0,0,0,0,0,
0,0,0,0,0,0,0,0,0,0,
0,0.1,0.1,0.1,0.2,0.2,0.3,0.3,0.3,0.2,
0.2,0.1,0.1,0.1,0.1,0.1,0.1,0.1,0.1,0.1,
0.1,0.1,0.1,0.1,0,0,-0.1,-0.3,-0.5,-0.5,
-0.4,-0.2,0,0,0,0,0,0,0,0,
0,0,0,0,0,0,0,0,0,0,
-0.1,-0.1,0,0,0,0,0,0,0,0,
0,0,0,0,0,0,0,0,0,0,
0,0,0,0,0,0,0,0,0,0,
0,0,0,0,0,0,0,0,0,0,
0,0,0,0,0,0,0,0,0,0,
0,0,0,0,0,0,0,0,0,0,
0,0,0,0,0,0,0,0,0.1,0.1,
0,0,0,0,0,0,0,0,0,0,
0,0,0,0,0];
const dc12 = [
0,0,0,0,0,0,0,0,0,0,
0,0,0,0,0,0,0,0,0,0,
0,0,0,0,0,0,0,0,0,0,
0,0,0,0,0,0,0,0,0,0,
0,0,0,0,0,0,0,0,0,0,
0,0,0,0,0,0,0,0,0,0,
0,0,0,0,0,0,0,0,0,0,
0,0,0,0,0,0,0,0,-0.1,-0.1,
-0.1,0,0,0.1,0.1,0.1,0.1,0.2,0.2,0.3,
0.3,0.2,0.1,0.1,0.1,0,-0.1,-0.2,-0.3,-0.3,
-0.2,0,0,0,0,0,0,0,0.1,0.1,
0.2,0.2,0.2,0.1,0.1,0,-0.1,-0.2,-0.2,-0.2,
-0.1,-0.1,0,0,0,0,0,0,0,0,
0,0,0,0,0,0,0,0,0,0,
0,0,0,0,0,0,0,0,0,0,
0,0,0,0,0,0,0,0,0,0,
0,0,0,0,0,0,0,0,0,0,
0,0,0.1,0.1,0,0,0,0,0,0,
0,0,0,0,0,0,0,0,0,0,
0,0,0,0,0,0,0,0,0,0,
0,0,0,0,0];

// delta-delta coefficients
const ddc0 = [
0,0.1,0,-0.1,0,0,0,0,0,0,
0,0,0,0,0,0,0,0,0,0,
0,0,0,0,0,0,0,0,0,0,
0,0.1,0.1,0,-0.1,0,0,0,0,0,
0,0,0,0,0,0,0,0,0,0,
0,0,0,0,0,0,0,0,0,0,
0,0.4,1.0,1.4,1.0,0,-1.0,-1.2,-0.6,0,
0.2,0.2,0.3,0.6,1.0,1.3,1.4,1.0,0.2,-0.8,
-1.6,-1.8,-1.4,-1.0,-1.2,-1.8,-2.4,-2.6,-2.0,-0.6,
0.8,2.0,2.4,2.0,1.2,1.0,1.6,2.4,2.8,1.6,
-1.0,-3.0,-3.2,-2.2,-0.8,0.2,0.4,0.2,0,0,
0.1,0.1,0,0,0,0,0.1,0.2,0.3,0.2,
-0.4,-1.0,-1.4,-1.2,-0.4,0.6,1.0,0.8,0.5,0.3,
0.2,0.1,0,0,0,0,0,0,0,0,
0,0,0,0,0,0,0,0,0,0,
0,0,0,0,0,0,0,0,0,0,
0,0,0,0,0,0,0,0,0,0,
0,0,0,0,0,0,0,0,0,0,
0,0,0,0,0,0,0,0,0,0,
0,0,0,0,0,0,0,0.1,-0.1,0,
0,0,0,0,0];
const ddc1 = [
0,0,0,0,0,0,0,0,0,0,
0,0,0,0,0,0,0,0,0.1,0.1,
0,0,0,0,0,0,0,0,0,0,
0,0,0,0,0,0,0,0,0,0,
0,0,0,0,0,0,0,0,0,0,
0,0,0,0,0,0,0,0,0,0,
0,0,0,0,-0.2,-0.3,-0.4,-0.2,0.2,0.2,
0.1,0,0,0,0,0.2,0.6,1.4,1.6,0.6,
-1.0,-1.8,-1.6,-0.8,-0.2,0.1,0.1,0,0,0,
0,0,0,0,0,-0.2,-0.4,-0.6,-0.8,-0.8,
-0.4,0.2,0.6,0.8,0.6,0.3,0.1,0,0,0,
0,0,0,0,0,0,0,0.1,0.3,0.5,
0.5,0.2,-0.2,-0.4,-0.4,-0.3,-0.2,-0.1,0,0,
0,0,0,0,0,0,0,0,0,0,
0,0,0,0,0,0,0,0,0,0,
0,0,0,0,0,0,0,0,0,0,
0,0,0,0,0,0,0,0,0,0,
0,0,0,0,0,0,0,0,0,0,
0,0,0,0,0,0,0,0,0,0,
0,0,0,0,0,0,0,0,0,0,
0,0,0,0,0];
const ddc2 = [
0,0,0,0,0,0,0,0,0,0,
0,0,0,0,0,0,0,0,0,0,
0,0,0,0,0,0,0,0,0,0,
0,0,0,0,0,0,0,0,0,0,
0,0,0,0,0,0,0,0,0,0,
0,0,0,0,0,0,0,0,0,0,
0,0,0,0.1,0.2,0.2,0.1,-0.1,-0.2,-0.3,
-0.3,-0.2,0,0.1,0.2,0.3,0.4,0.3,0.1,-0.2,
-0.4,-0.5,-0.3,0,0.1,0,-0.1,0,0,-0.1,
-0.2,-0.3,-0.2,0,0,-0.1,-0.2,-0.2,0,0.3,
0.5,0.5,0.3,0,-0.1,-0.1,0,0,0,0,
0,0,0,0.1,0.2,0.2,0.2,0.1,0,-0.2,
-0.3,-0.3,-0.2,-0.1,0,0.1,0.1,0.1,0,0,
0,0,0,0,0,0,0,0,0,0,
0,0,0,0,0,0,0,0,0,0,
0,0,0,0,0,0,0,0,0,0,
0,0,0,0,0,0,0,0,0,0,
0,0,0,0,0,0,0,0,0,0,
0,0,0,0,0,0,0,0,0,0,
0,0,0,0,0,0,0,0,0,0,
0,0,0,0,0];
const ddc3 = [
0,0,0,0,0,0,0,0,0,0,
0,0,0,0,0,0,0,0,0,0,
0,0,0,0,0,0,0,0,0,0,
0,0,0,0,0,0,0,0,0,0,
0,0,0,0,0,0,0,0,0,0,
0,0,0,0,0,0,0,0,0,0,
0,0,0,0,0,0,0,0,0,0,
0.2,0.2,0.1,0,0,0.2,0.4,0.5,0.4,0.1,
-0.3,-0.6,-0.6,-0.4,-0.2,-0.1,-0.1,0,0,0.1,
0.1,0,-0.1,-0.2,-0.2,-0.2,-0.3,-0.3,-0.2,0,
0.3,0.5,0.4,0.2,0,0,0,0,0,0,
0,0,0,0,0,0,0,0,0.1,0.3,
0.4,0.3,0,-0.3,-0.4,-0.3,-0.1,0,0,0,
0,0,0,0,0,0,0,0,0,0,
0,0,0,0,0,0,0,0,0,0,
0,0,0,0,0,0,0,0,0,0,
0,0,0,0,0,0,0,0,0,0,
0,0,0,0,0,0,0,0,0,0,
0,0,0,0,0,0,0,0,0,0,
0,0,0,0,0,0,0,0,0,0,
0,0,0,0,0];
const ddc4 = [
0,0,0,0,0,0,0,0,0,0,
0,0,0,0,0,0,0,0,0,0,
0,0,0,0,0,0,0,0,0,0,
0,0,0,0,0,0,0,0,0,0,
0,0,0,0,0,0,0,0,0,0,
0,0,0,0,0,0,0,0,0,0,
0,0,0,0,0.1,0.1,0.1,0,-0.1,-0.2,
-0.2,-0.1,0,0.1,0.1,0,0,0,0,0.1,
0.1,0,0,-0.1,-0.1,0,0,0,0,0,
0,0,0.1,0.1,0.1,0.1,0,0,-0.1,-0.1,
0,0,0,0,0,0,0,0,0,0,
0,0,0,0,0,0,0,0,0,0,
0,0,0,0,0,0,0,0,0,0,
0,0,0,0,0,0,0,0,0,0,
0,0,0,0,0,0,0,0,0,0,
0,0,0,0,0,0,0,0,0,0,
0,0,0,0,0,0,0,0,0,0,
0,0,0,0,0,0,0,0,0,0,
0,0,0,0,0,0,0,0,0,0,
0,0,0,0,0,0,0,0,0,0,
0,0,0,0,0];
const ddc5 = [
0,0,0,0,0,0,0,0,0,0,
0,0,0,0,0,0,0,0,0,0,
0,0,0,0,0,0,0,0,0,0,
0,0,0,0,0,0,0,0,0,0,
0,0,0,0,0,0,0,0,0,0,
0,0,0,0,0,0,0,0,0,0,
0,0,0,-0.1,-0.3,-0.3,0,0.2,0.3,0.2,
0,-0.1,-0.1,-0.1,-0.1,-0.1,0,0.1,0.1,0.2,
0.2,0.2,0.1,0.1,0.1,0.1,0.1,0,-0.1,-0.2,
-0.3,-0.3,-0.2,-0.1,-0.1,-0.1,-0.2,-0.2,-0.2,-0.1,
0.1,0.3,0.3,0.2,0.1,0,0,0,0,0,
0,0,0,0,0,0,0,0,0.1,0.1,
0.2,0.2,0.1,0,0,-0.1,-0.1,-0.1,-0.1,-0.1,
0,0,0,0,0,0,0,0,0,0,
0,0,0,0,0,0,0,0,0,0,
0,0,0,0,0,0,0,0,0,0,
0,0,0,0,0,0,0,0,0,0,
0,0,0,0,0,0,0,0,0,0,
0,0,0,0,0,0,0,0,0,0,
0,0,0,0,0,0,0,0,0,0,
0,0,0,0,0];
const ddc6 = [
0,0,0,0,0,0,0,0,0,0,
0,0,0,0,0,0,0,0,0,0,
0,0,0,0,0,0,0,0,0,0,
0,0,0,0,0,0,0,0,0,0,
0,0,0,0,0,0,0,0,0,0,
0,0,0,0,0,0,0,0,0,0,
0,0,0,0,0,0,0,0,0,0,
0,0,0,0,-0.1,-0.2,-0.2,-0.1,0,0.1,
0.2,0.2,0.2,0.1,0.1,0,0,-0.1,-0.2,-0.2,
-0.2,-0.1,0,0.1,0.1,0.1,0,0,0,0.1,
0.1,0.1,0,0,0,0,0,0,0,0,
0,0,0,0,0,0,0,0,0,0,
0,0,0,0,0,0,0,0,0,0,
0,0,0,0,0,0,0,0,0,0,
0,0,0,0,0,0,0,0,0,0,
0,0,0,0,0,0,0,0,0,0,
0,0,0,0,0,0,0,0,0,0,
0,0,0,0,0,0,0,0,0,0,
0,0,0,0,0,0,0,0,0,0,
0,0,0,0,0,0,0,0,0,0,
0,0,0,0,0];
const ddc7 = [
0,0,0,0,0,0,0,0,0,0,
0,0,0,0,0,0,0,0,0,0,
0,0,0,0,0,0,0,0,0,0,
0,0,0,0,0,0,0,0,0,0,
0,0,0,0,0,0,0,0,0,0,
0,0,0,0,0,0,0,0,0,0,
0,0,0,0,0,0,0,0,0,0,
0,0,0,0,0,0,0,0,0,0,
0,0,0,0,0,0,0,0,0,0,
0,0,0,0,0,0,0,0,0,0,
0,0,0,0,0,0,0,0,0,0,
0,0,0,0.1,0.1,0.1,0,0,0,0,
0,0,0,0,0,0,0,0,0,0,
0,0,0,0,0,0,0,0,0,0,
0,0,0,0,0,0,0,0,0,0,
0,0,0,0,0,0,0,0,0,0,
0,0,0,0,0,0,0,0,0,0,
0,0,0,0,0,0,0,0,0,0,
0,0,0,0,0,0,0,0,0,0,
0,0,0,0,0,0,0,0,0,0,
0,0,0,0,0];
const ddc8 = [
0,0,0,0,0,0,0,0,0,0,
0,0,0,0,0,0,0,0,0,0,
0,0,0,0,0,0,0,0,0,0,
0,0,0,0,0,0,0,0,0,0,
0,0,0,0,0,0,0,0,0,0,
0,0,0,0,0,0,0,0,0,0,
0,0,0,0,-0.1,-0.2,-0.2,0,0.1,0.1,
0.1,0.1,0.1,0.1,0.1,0.1,0,0,-0.1,-0.2,
-0.2,-0.2,-0.1,0,0,0,0,0.1,0.1,0.1,
0.1,0,0,-0.1,-0.1,-0.1,0,0,0,-0.1,
-0.1,-0.1,0,0,0,0,0,0,0,0,
0,0,0,0,0,0,0,0,0,0,
0,0,0,0,0,0,0,0,0,0,
0,0,0,0,0,0,0,0,0,0,
0,0,0,0,0,0,0,0,0,0,
0,0,0,0,0,0,0,0,0,0,
0,0,0,0,0,0,0,0,0,0,
0,0,0,0,0,0,0,0,0,0,
0,0,0,0,0,0,0,0,0,0,
0,0,0,0,0,0,0,0,0,0,
0,0,0,0,0];
const ddc9 = [
0,0,0,0,0,0,0,0,0,0,
0,0,0,0,0,0,0,0,0,0,
0,0,0,0,0,0,0,0,0,0,
0,0,0,0,0,0,0,0,0,0,
0,0,0,0,0,0,0,0,0,0,
0,0,0,0,0,0,0,0,0,0,
0,0,0,0,0,0,0,0,0,0,
0,0,0,0,0,0,0,0,0,0,
0,0,0,0,-0.1,-0.1,-0.1,-0.1,-0.1,-0.1,
0,0,0,0,0,0,-0.1,-0.1,0,0.1,
0.2,0.2,0.1,0,0,0,0,0,0,0,
0,0,0,0,0,0,0,0,0,0,
0,0,0,0,0,0,0,0,0,0,
0,0,0,0,0,0,0,0,0,0,
0,0,0,0,0,0,0,0,0,0,
0,0,0,0,0,0,0,0,0,0,
0,0,0,0,0,0,0,0,0,0,
0,0,0,0,0,0,0,0,0,0,
0,0,0,0,0,0,0,0,0,0,
0,0,0,0,0,0,0,0,0,0,
0,0,0,0,0];
const ddc10 = [
0,0,0,0,0,0,0,0,0,0,
0,0,0,0,0,0,0,0,0,0,
0,0,0,0,0,0,0,0,0,0,
0,0,0,0,0,0,0,0,0,0,
0,0,0,0,0,0,0,0,0,0,
0,0,0,0,0,0,0,0,0,0,
0,0,0,0,0,0,0,0,0,0,
0,0,0,0,0,0,0,0,0,0,
0,0,0,0,0,0,0,0,0,0,
0,0,0,0,0,0,0,0,0,0,
0,0,0,0,0,0,0,0,0,0,
0,0,0,0,0,0.1,0.1,0.1,0.1,0,
-0.1,-0.2,-0.2,-0.1,0,0,0,0,0,0,
0,0,0,0,0,0,0,0,0,0,
0,0,0,0,0,0,0,0,0,0,
0,0,0,0,0,0,0,0,0,0,
0,0,0,0,0,0,0,0,0,0,
0,0,0,0,0,0,0,0,0,0,
0,0,0,0,0,0,0,0,0,0,
0,0,0,0,0,0,0,0,0,0,
0,0,0,0,0];
const ddc11 = [
0,0,0,0,0,0,0,0,0,0,
0,0,0,0,0,0,0,0,0,0,
0,0,0,0,0,0,0,0,0,0,
0,0,0,0,0,0,0,0,0,0,
0,0,0,0,0,0,0,0,0,0,
0,0,0,0,0,0,0,0,0,0,
0,0,0,0,0,0,0,0,0,0,
0,0,0,0,0,0,0,0,0,0,
0,0,0,0,0,0,0,0,0,0,
0,0,0,0,-0.1,-0.1,-0.2,-0.2,-0.1,0,
0.1,0.1,0.1,0,0,0,0,0,0,0,
0,0,0,0,0,0,0,0,0,0,
0,0,0,0,0,0,0,0,0,0,
0,0,0,0,0,0,0,0,0,0,
0,0,0,0,0,0,0,0,0,0,
0,0,0,0,0,0,0,0,0,0,
0,0,0,0,0,0,0,0,0,0,
0,0,0,0,0,0,0,0,0,0,
0,0,0,0,0,0,0,0,0,0,
0,0,0,0,0,0,0,0,0,0,
0,0,0,0,0];
const ddc12 = [
0,0,0,0,0,0,0,0,0,0,
0,0,0,0,0,0,0,0,0,0,
0,0,0,0,0,0,0,0,0,0,
0,0,0,0,0,0,0,0,0,0,
0,0,0,0,0,0,0,0,0,0,
0,0,0,0,0,0,0,0,0,0,
0,0,0,0,0,0,0,0,0,0,
0,0,0,0,0,0,0,0,0,0,
0,0,0,0,0,0,0,0,0.1,0.1,
0,-0.1,-0.1,-0.1,0,-0.1,-0.1,0,0,0,
0,0,0,0,0,0,0,0,0,0,
0,0,0,0,-0.1,-0.1,-0.1,0,0,0,
0,0,0,0,0,0,0,0,0,0,
0,0,0,0,0,0,0,0,0,0,
0,0,0,0,0,0,0,0,0,0,
0,0,0,0,0,0,0,0,0,0,
0,0,0,0,0,0,0,0,0,0,
0,0,0,0,0,0,0,0,0,0,
0,0,0,0,0,0,0,0,0,0,
0,0,0,0,0,0,0,0,0,0,
0,0,0,0,0];

// Tick values
const xTickValues = [20, 40, 60, 80, 100, 120, 140, 160, 180, 200];
const yTicksWithC0 = [-40, -20, 0];
const yTicksWithoutC0 = [-5, 0, 5, 10];

// Line colour cycle
const colorOrder = ["#0072BD", "#D95319", "#EDB120", "#7E2F8E", "#77AC30", "#4DBEEE", "#A2142F"];

const coeffs = [c1, c2, c3, c4, c5, c6, c7, c8, c9, c10, c11, c12];
const deltas = [dc0, dc1, dc2, dc3, dc4, dc5, dc6, dc7, dc8, dc9, dc10, dc11, dc12];
const deltaDeltas = [ddc0, ddc1, ddc2, ddc3, ddc4, ddc5, ddc6, ddc7, ddc8, ddc9, ddc10, ddc11, ddc12];

const panels = [
  { title: "MFCC, delta, delta-delta parametry", ylabel: ["Hodnoty koeficientů"],
    series: [c0, ...coeffs, ...deltas, ...deltaDeltas], yTicks: yTicksWithC0 },
  { title: "MFCC parametry", ylabel: ["Hodnoty koeficientů", "c[0]-c[12]"],
    series: [c0, ...coeffs], yTicks: yTicksWithC0 },
  { title: "MFCC bez c[0]", ylabel: ["Hodnoty koeficientů", "c[1]-c[12]"],
    series: coeffs, yTicks: yTicksWithoutC0 }
];

// Layout
const plotLeft = 107.2, plotRight = 950.4, plotH = 140;
const layout = [
  { top: 35.5,  titleY: 20.7,  xlabelY: 229.5, ylabelX: [54],     ylabelY: 105.5 },
  { top: 280,   titleY: 268.3, xlabelY: 477.5, ylabelX: [22, 59], ylabelY: 348 },
  { top: 523.5, titleY: 514,   xlabelY: 720.5, ylabelX: [30, 66], ylabelY: 594 }
];
const axisColor = "#262626";
const tickLen = 8;

const svg = d3.select("#chart");
const x = d3.scaleLinear().domain([1, segments.length]).range([plotLeft, plotRight]);

panels.forEach((p, i) => {
  const L = layout[i];
  const bottom = L.top + plotH;
  const y = d3.scaleLinear().domain(d3.extent(p.series.flat())).range([bottom, L.top]);

  const clipId = "plot-clip-" + i;
  svg.append("clipPath").attr("id", clipId)
    .append("rect").attr("x", plotLeft).attr("y", L.top)
    .attr("width", plotRight - plotLeft).attr("height", plotH);

  const line = d3.line().x((d, j) => x(segments[j])).y(d => y(d));
  svg.append("g").attr("clip-path", `url(#${clipId})`)
    .selectAll("path").data(p.series).join("path")
    .attr("d", line)
    .attr("fill", "none")
    .attr("stroke", (d, j) => colorOrder[j % colorOrder.length])
    .attr("stroke-width", 1.1)
    .attr("stroke-linejoin", "round");

  const styleAxis = g => {
    g.select(".domain").remove();
    g.selectAll(".tick line").attr("stroke", axisColor).attr("stroke-width", 1);
    g.selectAll(".tick text").attr("fill", axisColor).attr("font-size", 19)
      .attr("font-family", "'Liberation Serif', serif");
  };

  svg.append("g").attr("transform", `translate(0,${bottom})`)
    .call(d3.axisBottom(x).tickValues(xTickValues).tickSize(-tickLen).tickSizeOuter(0).tickPadding(15.2).tickFormat(d => String(d)))
    .call(styleAxis);
  svg.append("g").attr("transform", `translate(0,${L.top})`)
    .call(d3.axisTop(x).tickValues(xTickValues).tickSize(-tickLen).tickSizeOuter(0).tickFormat(""))
    .call(styleAxis);
  svg.append("g").attr("transform", `translate(${plotLeft},0)`)
    .call(d3.axisLeft(y).tickValues(p.yTicks).tickSize(-tickLen).tickSizeOuter(0).tickPadding(9).tickFormat(d => String(d)))
    .call(styleAxis);
  svg.append("g").attr("transform", `translate(${plotRight},0)`)
    .call(d3.axisRight(y).tickValues(p.yTicks).tickSize(-tickLen).tickSizeOuter(0).tickFormat(""))
    .call(styleAxis);

  svg.append("rect")
    .attr("x", plotLeft).attr("y", L.top)
    .attr("width", plotRight - plotLeft).attr("height", plotH)
    .attr("fill", "none").attr("stroke", axisColor).attr("stroke-width", 1.1);

  svg.append("text")
    .attr("x", (plotLeft + plotRight) / 2).attr("y", L.titleY)
    .attr("text-anchor", "middle").attr("font-weight", "bold")
    .attr("font-size", 21).attr("letter-spacing", 1.1).attr("fill", "#000")
    .text(p.title);

  svg.append("text")
    .attr("x", (plotLeft + plotRight) / 2).attr("y", L.xlabelY)
    .attr("text-anchor", "middle").attr("font-size", 20).attr("fill", axisColor)
    .text("t [segmenty]");

  p.ylabel.forEach((txt, k) => {
    svg.append("text")
      .attr("transform", `translate(${L.ylabelX[k]},${L.ylabelY}) rotate(-90)`)
      .attr("text-anchor", "middle").attr("font-size", 20).attr("fill", axisColor)
      .text(txt);
  });
});
</script>
</body>
</html>
